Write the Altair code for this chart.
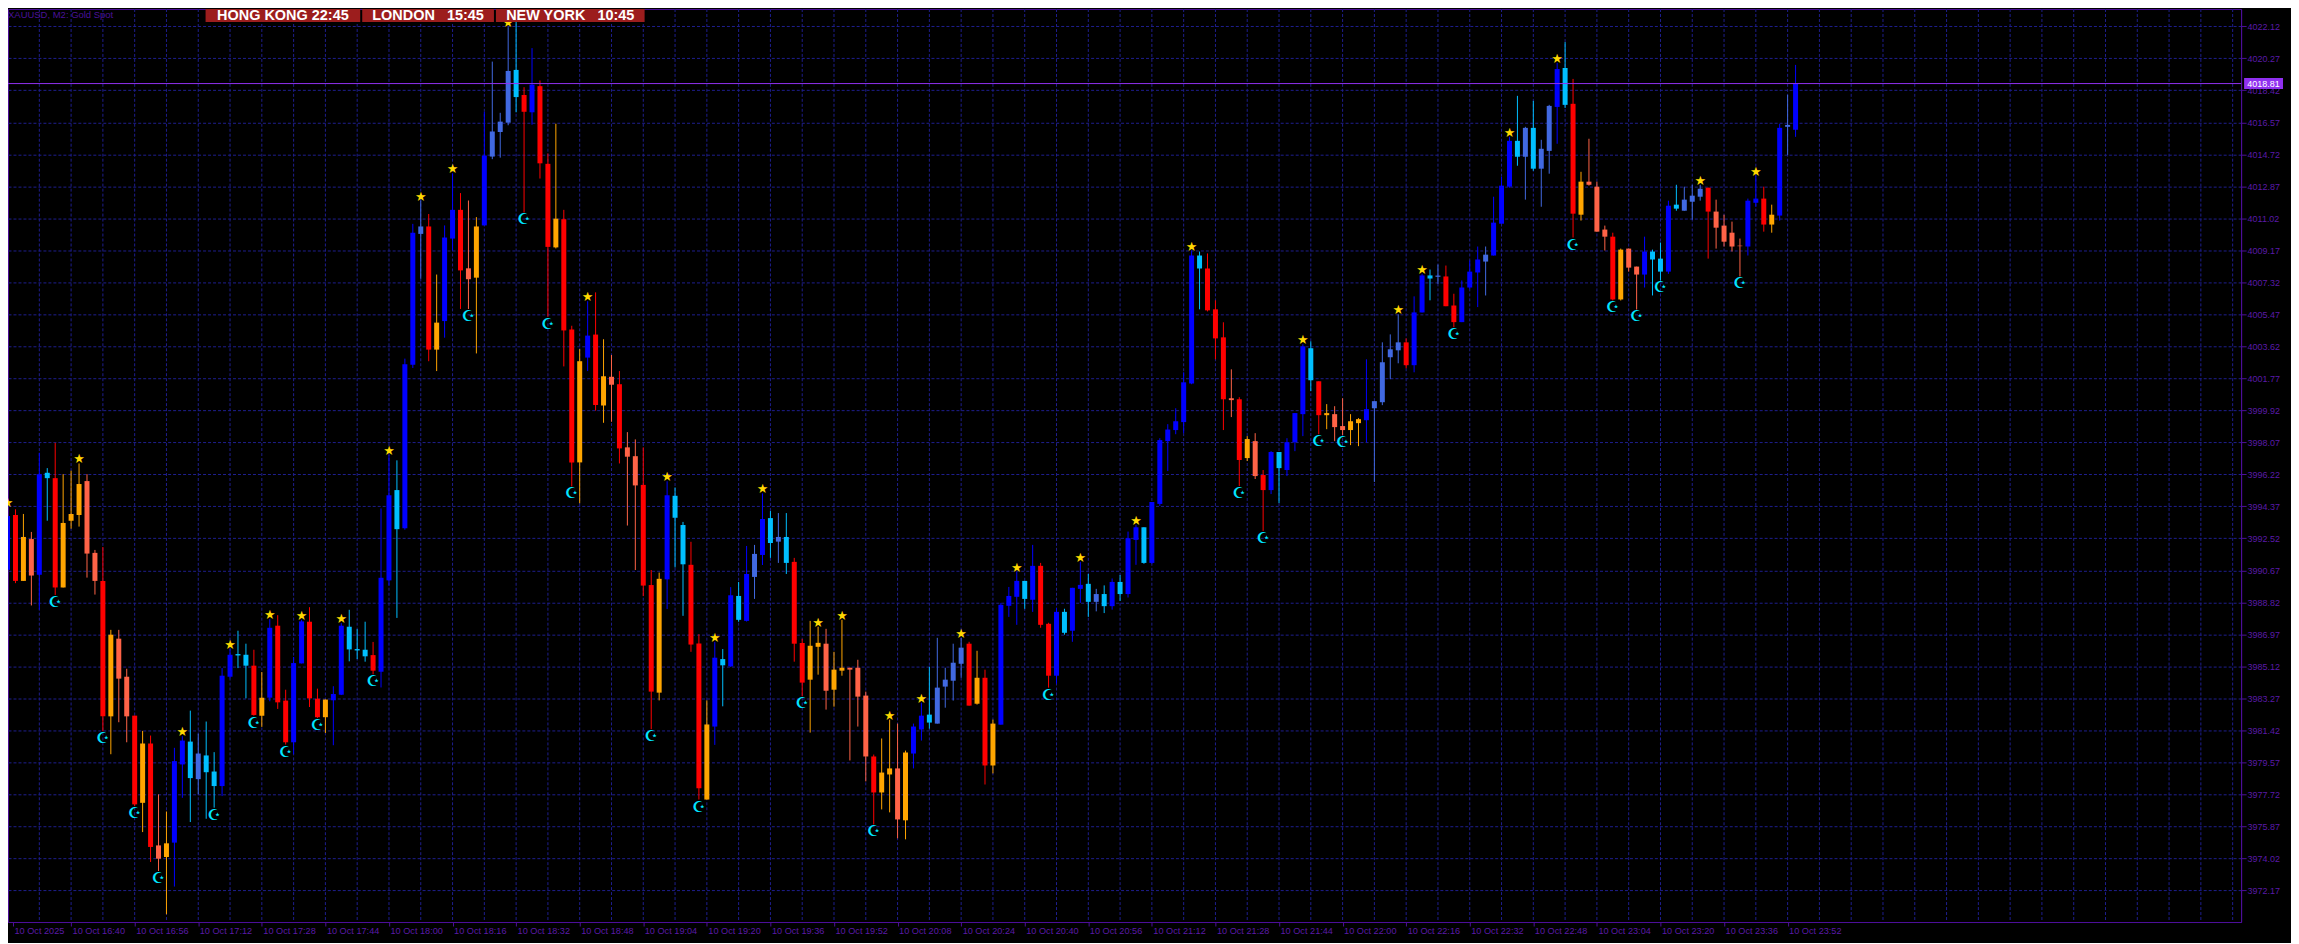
import json
import altair as alt
import pandas as pd

# ---------------- data ----------------
TREND = list(
    "BXOTBSXOOOTTXOTTXOXTOBBSRSSBBSSXOBXXBBXXOBBSSSXBBSBBRXOBBXTOBRRRSXBXXOXXOBXOTXTTXXOBSSXXOBSBSBRBSRSXXOOTOOTTTXOOTOBBSRRRRXOXOBBBSBXXBSBBS"
    "RSBSB"
    "BSBBBBBBSXXXTXOTXBSBBBSXOTTOOBRRRRXBBSRXXBBBRBBBSRSRRBSXOTTTXOTTBSSBSRRRXTTTTBBXOBRB"
)
OPEN = [3990.70, 3993.87, 3990.06, 3992.48, 3990.41, 3996.31, 3996.00, 3989.68, 3993.54, 3993.87,
        3995.83, 3991.68, 3990.06, 3982.23, 3986.72, 3984.52, 3982.27, 3977.23, 3980.66, 3974.77,
        3974.10, 3974.93, 3979.45, 3980.77, 3978.60, 3979.97, 3979.04, 3978.20, 3984.52, 3985.83,
        3985.79, 3985.16, 3982.27, 3983.31, 3987.47, 3983.14, 3980.73, 3985.29, 3987.70, 3983.25,
        3982.18, 3983.16, 3983.48, 3987.41, 3986.12, 3986.08, 3985.77, 3984.81, 3990.09, 3995.31,
        3993.11, 4002.55, 4010.12, 4010.55, 4003.43, 4005.08, 4009.85, 4011.51, 4008.13, 4007.59,
        4010.61, 4014.59, 4016.01, 4016.55, 4019.60, 4018.15, 4017.15, 4018.66, 4014.17, 4009.34,
        4010.97, 4004.60, 3996.91, 4002.97, 4004.30, 4000.20, 4001.86, 4001.43, 3997.78, 3997.27,
        3995.61, 3989.82, 3983.60, 3990.15, 3994.98, 3993.29, 3990.99, 3986.44, 3977.42, 3981.64,
        3985.54, 3985.12, 3989.19, 3987.75, 3990.29, 3991.56, 3993.69, 3992.33, 3992.60, 3991.16,
        3986.47, 3984.35, 3986.25, 3986.43, 3983.77, 3984.87, 3985.04, 3985.04, 3983.43, 3979.91,
        3977.83, 3978.87, 3979.22, 3976.22, 3980.08, 3981.47, 3982.33, 3981.81, 3983.95, 3984.29,
        3985.27, 3986.43, 3982.96, 3984.46, 3979.39, 3981.75, 3988.62, 3989.14, 3990.06, 3988.97,
        3990.93, 3987.58, 3984.58, 3988.27, 3987.18, 3989.60, 3989.89, 3988.85, 3989.30, 3988.60,
        3990.00, 3989.30, 3992.43, 3993.16, 3991.10, 3994.51, 3998.14, 3998.78, 3999.24, 4001.47,
        4008.87, 4008.12, 4005.76, 4004.14, 4000.62, 4000.56, 3997.16, 3998.14, 3996.18, 3995.31,
        3997.51, 3996.47, 3998.08, 3999.70, 4003.51, 4001.60, 3999.64, 3999.70, 3999.01, 3998.78,
        3999.18, 3999.35, 4000.04, 4000.39, 4002.99, 4003.39, 4003.85, 4002.53, 4005.58, 4007.72,
        4007.64, 4007.66, 4005.98, 4005.02, 4007.02, 4007.89, 4008.52, 4008.87, 4010.71, 4012.85,
        4015.50, 4014.58, 4016.25, 4013.89, 4014.92, 4017.46, 4019.71, 4017.64, 4011.23, 4013.14,
        4012.85, 4010.37, 4009.96, 4006.33, 4009.27, 4008.23, 4007.77, 4009.10, 4008.69, 4007.94,
        4011.81, 4011.46, 4011.98, 4012.27, 4012.79, 4011.41, 4010.60, 4010.19, 4009.44, 4009.39,
        4011.92, 4012.16, 4010.66, 4011.18, 4016.31, 4016.14]
HIGH = [3994.31, 3994.20, 3993.93, 3992.89, 3997.47, 3996.58, 3998.04, 3996.23, 3996.43, 3996.85,
        3996.23, 3991.85, 3992.02, 3987.23, 3987.23, 3984.98, 3982.27, 3981.39, 3981.12, 3977.72,
        3976.73, 3980.41, 3981.08, 3982.56, 3981.23, 3981.93, 3980.16, 3985.02, 3986.12, 3987.18,
        3986.43, 3986.08, 3984.79, 3987.85, 3988.08, 3983.77, 3985.66, 3987.81, 3988.54, 3983.83,
        3983.20, 3983.97, 3987.62, 3988.39, 3987.27, 3987.70, 3986.53, 3994.25, 3997.33, 3997.03,
        4002.91, 4010.70, 4012.05, 4011.27, 4007.77, 4010.61, 4013.62, 4012.48, 4012.05, 4011.09,
        4017.18, 4020.08, 4017.12, 4022.07, 4022.55, 4018.60, 4020.86, 4018.99, 4014.77, 4016.49,
        4011.51, 4004.81, 4003.46, 4006.23, 4006.74, 4004.03, 4003.12, 4002.19, 3998.66, 3998.24,
        3997.78, 3990.69, 3990.54, 3995.82, 3995.46, 3993.47, 3992.32, 3986.98, 3983.15, 3986.53,
        3986.12, 3989.70, 3990.00, 3992.08, 3992.14, 3995.12, 3994.10, 3993.98, 3993.98, 3991.39,
        3986.71, 3987.75, 3987.41, 3987.29, 3985.96, 3987.81, 3985.04, 3985.50, 3983.66, 3980.02,
        3980.95, 3982.04, 3981.81, 3980.25, 3981.81, 3983.02, 3985.10, 3986.77, 3985.04, 3986.43,
        3986.77, 3986.54, 3986.02, 3984.93, 3982.04, 3988.79, 3989.71, 3990.58, 3990.06, 3992.14,
        3991.10, 3987.64, 3988.50, 3988.45, 3989.66, 3991.16, 3990.46, 3989.60, 3989.80, 3990.20,
        3990.40, 3992.91, 3993.30, 3993.16, 3994.62, 3998.31, 3999.12, 4000.04, 4002.12, 4009.16,
        4009.10, 4008.99, 4006.28, 4005.01, 4002.29, 4000.68, 3998.43, 3998.60, 3996.47, 3997.56,
        3997.51, 3998.31, 3999.76, 4003.74, 4003.91, 4001.60, 4000.28, 4000.16, 4000.62, 3999.70,
        3999.47, 4002.87, 4000.45, 4003.85, 4004.31, 4005.47, 4004.08, 4006.51, 4007.81, 4008.06,
        4008.35, 4008.29, 4006.66, 4007.43, 4008.58, 4009.39, 4009.39, 4012.27, 4013.42, 4015.73,
        4018.10, 4016.31, 4017.81, 4015.56, 4017.58, 4020.00, 4021.21, 4019.08, 4013.71, 4015.62,
        4013.14, 4010.60, 4010.19, 4009.27, 4009.27, 4008.23, 4009.96, 4009.21, 4009.62, 4012.04,
        4012.96, 4012.85, 4012.96, 4012.96, 4012.79, 4012.10, 4011.23, 4010.83, 4009.85, 4012.16,
        4013.48, 4012.85, 4011.81, 4016.48, 4018.16, 4019.89]
LOW = [3990.66, 3989.93, 3990.06, 3988.64, 3988.39, 3993.54, 3989.25, 3989.68, 3993.08, 3993.20,
       3990.25, 3989.27, 3981.37, 3980.04, 3981.89, 3980.73, 3977.04, 3975.54, 3973.81, 3973.29,
       3970.79, 3972.39, 3977.52, 3976.12, 3977.72, 3976.31, 3976.95, 3977.62, 3984.43, 3985.02,
       3983.27, 3982.27, 3981.62, 3983.10, 3982.66, 3980.60, 3980.04, 3985.29, 3982.77, 3982.14,
       3981.27, 3980.56, 3983.46, 3985.41, 3985.54, 3985.39, 3984.66, 3983.90, 3989.79, 3987.92,
       3993.02, 4002.37, 4007.53, 4002.76, 4002.19, 4004.12, 4009.16, 4005.78, 4005.78, 4003.21,
       4010.61, 4014.44, 4014.53, 4016.40, 4017.15, 4011.36, 4016.43, 4013.32, 4005.33, 4009.28,
       4002.46, 3995.52, 3994.55, 4002.19, 3999.90, 3999.20, 3999.26, 3996.85, 3993.26, 3990.69,
       3989.18, 3981.49, 3983.15, 3988.43, 3990.84, 3988.04, 3985.96, 3977.42, 3977.42, 3980.58,
       3982.81, 3985.08, 3987.70, 3987.71, 3989.02, 3990.98, 3991.39, 3991.10, 3990.46, 3985.39,
       3983.39, 3981.29, 3984.64, 3982.62, 3982.79, 3984.58, 3979.68, 3981.64, 3978.47, 3975.98,
       3976.85, 3976.68, 3975.18, 3975.12, 3979.22, 3980.83, 3981.52, 3981.81, 3982.73, 3983.14,
       3984.46, 3982.85, 3982.91, 3978.29, 3978.93, 3981.75, 3987.98, 3987.52, 3988.45, 3988.27,
       3987.35, 3983.89, 3984.12, 3986.95, 3986.54, 3988.79, 3987.98, 3988.30, 3988.20, 3988.40,
       3988.90, 3989.10, 3990.99, 3991.05, 3991.05, 3994.39, 3996.41, 3998.54, 3998.60, 4001.43,
       4005.76, 4005.64, 4002.87, 3998.78, 3999.53, 3995.54, 3996.99, 3995.95, 3992.95, 3995.08,
       3994.56, 3996.12, 3997.56, 3998.43, 4001.03, 3998.54, 3998.83, 3998.14, 3998.49, 3997.91,
       3997.85, 3998.08, 3995.78, 4000.22, 4001.72, 4002.64, 4002.35, 4002.12, 4005.58, 4006.28,
       4007.23, 4005.94, 4004.73, 4005.02, 4006.94, 4005.89, 4006.56, 4008.87, 4010.71, 4012.79,
       4014.06, 4012.10, 4013.77, 4011.69, 4013.60, 4015.33, 4017.40, 4009.91, 4010.89, 4012.91,
       4010.25, 4009.16, 4006.27, 4006.27, 4007.94, 4005.75, 4007.02, 4006.56, 4007.43, 4007.81,
       4011.46, 4011.46, 4010.94, 4012.04, 4008.69, 4009.27, 4009.39, 4009.10, 4007.66, 4008.87,
       4011.69, 4010.25, 4010.19, 4010.89, 4014.69, 4015.73]
CLOSE = [3993.81, 3990.06, 3992.60, 3990.37, 3996.23, 3996.00, 3989.68, 3993.41, 3993.93, 3995.66,
         3991.64, 3990.06, 3982.23, 3986.95, 3984.41, 3982.23, 3977.14, 3980.66, 3974.68, 3974.00,
         3974.89, 3979.64, 3980.83, 3978.66, 3980.08, 3979.00, 3978.20, 3984.58, 3985.79, 3985.75,
         3985.16, 3982.31, 3983.31, 3987.35, 3983.04, 3980.73, 3985.31, 3987.72, 3983.27, 3982.18,
         3983.20, 3983.52, 3987.47, 3986.10, 3986.04, 3985.70, 3984.87, 3990.24, 3995.01, 3993.05,
         4002.58, 4010.18, 4010.55, 4003.43, 4004.99, 4009.91, 4011.51, 4008.01, 4007.50, 4010.55,
         4014.65, 4016.04, 4016.61, 4019.54, 4018.03, 4017.18, 4018.75, 4014.20, 4009.37, 4011.00,
         4004.54, 3996.91, 4002.76, 4004.24, 4000.23, 4001.89, 4001.40, 3997.72, 3997.24, 3995.58,
         3989.79, 3983.66, 3990.18, 3995.01, 3993.71, 3991.02, 3986.38, 3978.08, 3981.76, 3985.62,
         3985.18, 3989.23, 3987.81, 3990.46, 3991.62, 3993.64, 3992.25, 3992.60, 3991.10, 3986.43,
         3984.18, 3986.31, 3986.48, 3983.71, 3984.93, 3985.04, 3984.93, 3983.37, 3979.91, 3977.83,
         3978.98, 3979.22, 3976.27, 3980.14, 3981.64, 3982.27, 3981.87, 3983.89, 3984.35, 3985.33,
         3986.20, 3982.85, 3984.46, 3979.39, 3981.81, 3988.68, 3989.19, 3990.06, 3989.02, 3990.93,
         3987.52, 3984.58, 3988.27, 3987.06, 3989.66, 3989.83, 3988.85, 3989.30, 3988.60, 3990.00,
         3989.30, 3992.53, 3993.16, 3991.10, 3994.62, 3998.20, 3998.81, 3999.29, 4001.54, 4008.87,
         4008.12, 4005.70, 4004.08, 4000.56, 4000.51, 3997.05, 3998.26, 3996.12, 3995.31, 3997.51,
         3996.58, 3998.08, 3999.76, 4003.62, 4001.66, 3999.64, 3999.76, 3998.95, 3998.78, 3999.29,
         3999.41, 3999.99, 4000.45, 4002.70, 4003.45, 4003.85, 4002.53, 4005.58, 4007.72, 4007.54,
         4007.71, 4005.94, 4005.02, 4007.02, 4007.94, 4008.64, 4008.92, 4010.77, 4012.91, 4015.50,
         4014.58, 4016.25, 4013.89, 4015.04, 4017.52, 4019.65, 4017.58, 4011.29, 4013.14, 4012.96,
         4010.25, 4009.96, 4006.33, 4009.21, 4008.17, 4007.77, 4009.10, 4008.64, 4007.94, 4011.75,
         4011.58, 4012.10, 4012.33, 4012.73, 4011.41, 4010.48, 4009.67, 4009.39, 4009.41, 4012.04,
         4012.16, 4010.66, 4011.23, 4016.25, 4016.42, 4018.81]

STAR_BARS = [0, 9, 22, 28, 33, 37, 42, 48, 52, 56, 63, 73, 83, 89, 95, 102, 105, 111, 115, 120,
             127, 135, 142, 149, 163, 175, 178, 189, 195, 213, 220]
MOON_BARS = [6, 12, 16, 19, 26, 31, 35, 39, 46, 58, 65, 68, 71, 81, 87, 100, 109, 131, 155, 158,
             165, 168, 182, 197, 202, 205, 208, 218]

PRICE_TICKS = [3972.17, 3974.02, 3975.87, 3977.72, 3979.57, 3981.42, 3983.27, 3985.12, 3986.97,
               3988.82, 3990.67, 3992.52, 3994.37, 3996.22, 3998.07, 3999.92, 4001.77, 4003.62,
               4005.47, 4007.32, 4009.17, 4011.02, 4012.87, 4014.72, 4016.57, 4018.42, 4020.27,
               4022.12]
TIME_LABELS = ["10 Oct 2025", "10 Oct 16:40", "10 Oct 16:56", "10 Oct 17:12", "10 Oct 17:28",
               "10 Oct 17:44", "10 Oct 18:00", "10 Oct 18:16", "10 Oct 18:32", "10 Oct 18:48",
               "10 Oct 19:04", "10 Oct 19:20", "10 Oct 19:36", "10 Oct 19:52", "10 Oct 20:08",
               "10 Oct 20:24", "10 Oct 20:40", "10 Oct 20:56", "10 Oct 21:12", "10 Oct 21:28",
               "10 Oct 21:44", "10 Oct 22:00", "10 Oct 22:16", "10 Oct 22:32", "10 Oct 22:48",
               "10 Oct 23:04", "10 Oct 23:20", "10 Oct 23:36", "10 Oct 23:52"]
BARS_PER_LABEL = 8
BARS_PER_GRID = 4
LAST_PRICE = 4018.81
HEADER_LABELS = ["HONG KONG 22:45", "LONDON\u00a0\u00a0 15:45", "NEW YORK\u00a0\u00a0 10:45"]
TITLE_TEXT = "XAUUSD, M2:  Gold Spot"

# ---------------- layout / style ----------------
PLOT_W, PLOT_H = 2238, 915
X_DOMAIN = [0.6875, 280.4375]
Y_DOMAIN = [3970.34, 4023.12]
HEADER_X = [(198, 353), (355, 487), (489, 638)]
HEADER_H = 13

BG = "#000000"
GRID_C = "#1e1e8e"
AXIS_C = "#4d0f9a"
LBL_C = "#5a1aa8"
TITLE_C = "#4a1298"
LINE_C = "#9030f0"
HEADER_BG = "#9c1d1d"
FONT = "Liberation Sans"
TREND_DOMAIN = ["B", "R", "S", "X", "T", "O"]
TREND_RANGE = ["#0000ff", "#4169e1", "#00bfff", "#ff0000", "#ff6347", "#ffa500"]

df = pd.DataFrame({"bar": list(range(len(OPEN))), "open": OPEN, "high": HIGH,
                   "low": LOW, "close": CLOSE, "trend": TREND[:len(OPEN)]})
stars = df[df["bar"].isin(STAR_BARS)]
moons = df[df["bar"].isin(MOON_BARS)]
grid_df = pd.DataFrame({"g": list(range(BARS_PER_GRID, int(X_DOMAIN[1]) + 1, BARS_PER_GRID))})

XS = alt.Scale(domain=X_DOMAIN, nice=False, zero=False)
YS = alt.Scale(domain=Y_DOMAIN, nice=False, zero=False)

x_values = [X_DOMAIN[0]] + list(range(BARS_PER_LABEL, BARS_PER_LABEL * len(TIME_LABELS), BARS_PER_LABEL))
label_expr = f"{json.dumps(TIME_LABELS)}[round(datum.value / {BARS_PER_LABEL})]"

XAX = alt.Axis(values=x_values, labelExpr=label_expr, grid=False, ticks=True, tickSize=4,
               tickColor=AXIS_C, domainColor=AXIS_C, labelColor=LBL_C, labelFont=FONT,
               labelFontSize=9.2, labelAlign="left", labelBaseline="top", labelPadding=1,
               labelOffset=1, labelFlush=False, labelOverlap=False, labelBound=False, title=None)
YAX = alt.Axis(orient="right", values=PRICE_TICKS, format=".2f", grid=True, gridColor=GRID_C,
               gridDash=[3, 2], gridWidth=1, tickSize=5, tickColor=AXIS_C, domainColor=AXIS_C,
               labelColor=LBL_C, labelFont=FONT, labelFontSize=9, labelPadding=1,
               labelAlign="left", labelBaseline="middle", labelFlush=False, labelOverlap=False,
               labelBound=False, title=None)


def X(field):
    return alt.X(f"{field}:Q", scale=XS, axis=XAX)


def Y(field):
    return alt.Y(f"{field}:Q", scale=YS, axis=YAX)


COLOR = alt.Color("trend:N", scale=alt.Scale(domain=TREND_DOMAIN, range=TREND_RANGE), legend=None)

vgrid = alt.Chart(grid_df).mark_rule(color=GRID_C, strokeDash=[3, 2], strokeWidth=1).encode(x=X("g"))
wicks = alt.Chart(df).mark_rule(strokeWidth=1).encode(x=X("bar"), y=Y("low"), y2="high:Q", color=COLOR)
bodies = alt.Chart(df).mark_bar(size=5).encode(x=X("bar"), y=Y("open"), y2="close:Q", color=COLOR)
price_line = alt.Chart(df.head(1)).mark_rule(color=LINE_C, strokeWidth=1).encode(
    y=alt.datum(LAST_PRICE, scale=YS, axis=YAX))
star_marks = alt.Chart(stars).mark_text(text="\u2605", font="DejaVu Sans", fontSize=13, color="#ffd700",
                                        baseline="middle", dy=-4).encode(x=X("bar"), y=Y("high"))
moon_marks = alt.Chart(moons).mark_text(text="\u262a", font="DejaVu Sans", fontSize=15, color="#00e5ff",
                                        baseline="middle", dy=7).encode(x=X("bar"), y=Y("low"))
tag = alt.Chart(df.head(1)).mark_tick(orient="horizontal", color=LINE_C, size=39, thickness=11,
                                      opacity=1, clip=False).encode(
    x=alt.value(PLOT_W + 22.5), y=alt.datum(LAST_PRICE, scale=YS, axis=YAX))
tag_text = alt.Chart(df.head(1)).mark_text(text=f"{LAST_PRICE:.2f}", font=FONT, fontSize=9,
                                           color="#ffffff", align="center", baseline="middle",
                                           clip=False).encode(
    x=alt.value(PLOT_W + 22.5), y=alt.datum(LAST_PRICE, scale=YS, axis=YAX))

layers = [vgrid, wicks, bodies, price_line, star_marks, moon_marks, tag, tag_text]

for lbl, (x0, x1) in zip(HEADER_LABELS, HEADER_X):
    src = alt.Data(values=[{"label": lbl}])
    layers.append(alt.Chart(src).mark_rect(color=HEADER_BG).encode(
        x=alt.value(x0), x2=alt.value(x1), y=alt.value(0), y2=alt.value(HEADER_H)))
    layers.append(alt.Chart(src).mark_text(font=FONT, fontSize=14.5, fontWeight="bold", color="#ffffff",
                                           align="center", baseline="middle").encode(
        x=alt.value((x0 + x1) / 2), y=alt.value(HEADER_H / 2 + 0.5), text="label:N"))

layers.append(alt.Chart(alt.Data(values=[{"t": TITLE_TEXT}])).mark_text(
    font=FONT, fontSize=9.5, color=TITLE_C, align="left", baseline="top").encode(
    x=alt.value(0), y=alt.value(1), text="t:N"))

chart = alt.layer(*layers).properties(
    width=PLOT_W, height=PLOT_H, background=BG,
    padding={"left": 0, "top": 0, "right": 50, "bottom": 20},
    autosize=alt.AutoSizeParams(type="none"),
).configure_view(stroke=AXIS_C, strokeWidth=1)

chart.save("out.html", embed_options={"renderer": "svg", "actions": False})
